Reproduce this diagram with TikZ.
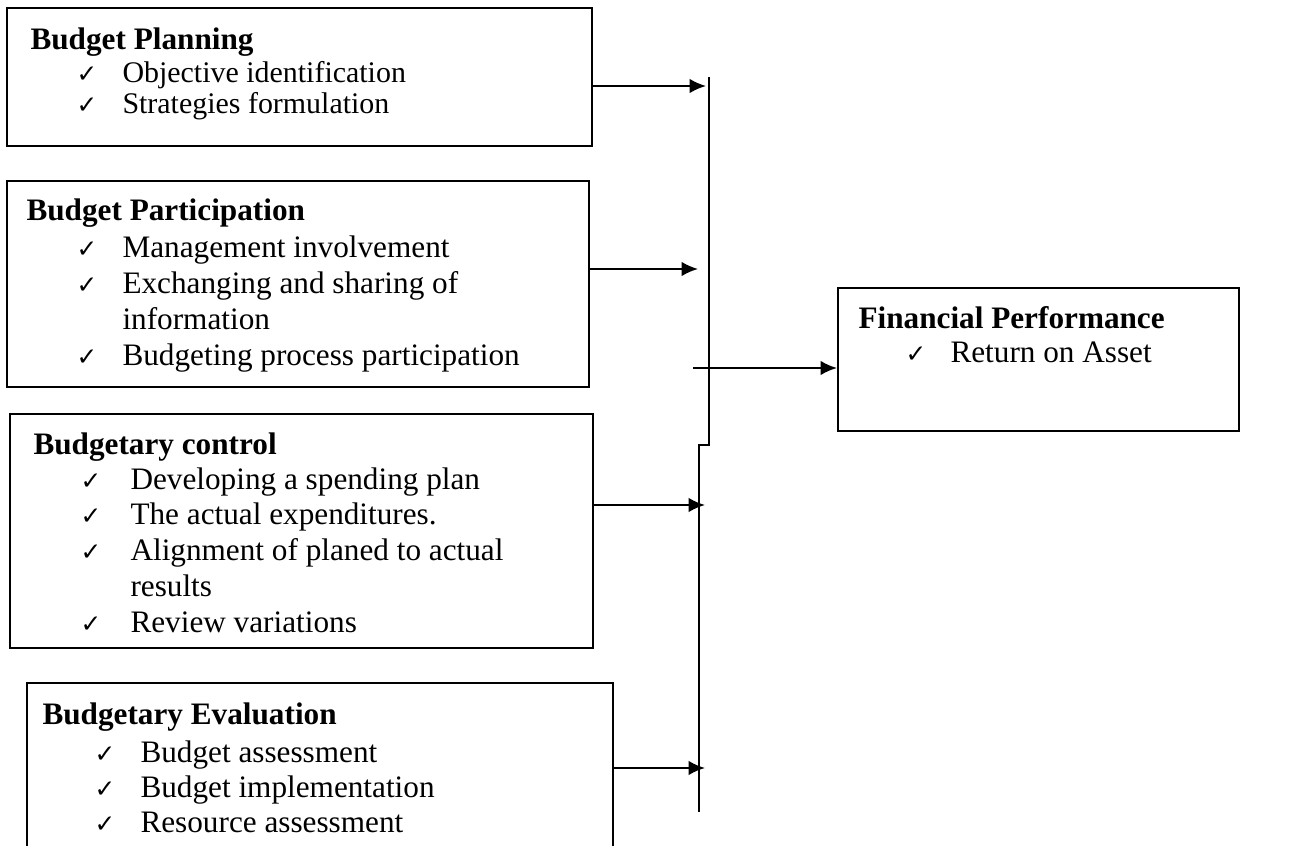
\documentclass[tikz,border=0pt]{standalone}
\usepackage{fontspec}
\setmainfont{Liberation Serif}
\newfontfamily\checkfont{DejaVu Sans}
\usetikzlibrary{arrows.meta,fit}
\tikzset{
  >={Latex[length=6.3pt,width=5.6pt]},
}
\tikzstyle{box}=[draw,line width=0.8pt,inner sep=0pt]
\tikzstyle{flow}=[line width=0.8pt,->]
\tikzstyle{bus}=[line width=0.8pt]
\tikzstyle{every node}=[font=\fontsize{12}{14}\selectfont]
\tikzstyle{head}=[anchor=base west,inner sep=0pt,font=\fontsize{12}{14}\selectfont\bfseries]
\tikzstyle{item}=[anchor=base west,inner sep=0pt]
\tikzstyle{tick}=[anchor=base west,inner sep=0pt,font=\checkfont\fontsize{9.5}{10}\selectfont]

\begin{document}
\begin{tikzpicture}[x=0.0135cm,y=-0.0135cm]
  \path[use as bounding box,clip] (0,0) rectangle (1298,846);

  % the four budget boxes
  \node[box,fit={(7,8) (592,146)}] (plan) {};
  \node[box,fit={(7,181) (589,387)}] (part) {};
  \node[box,fit={(10,414) (593,648)}] (ctrl) {};
  \node[box,fit={(27,683) (613,870)}] (eval) {};
  \node[box,fit={(838,288) (1239,431)}] (perf) {};

  \node[head] (plan t) at (30,50) {Budget Planning};
  \node[tick] (plan k1) at (76,83) {✓};
  \node[item,font=\fontsize{11.5}{13}\selectfont] (plan i1) at (122,83) {Objective identification};
  \node[tick] (plan k2) at (76,114) {✓};
  \node[item,font=\fontsize{11.5}{13}\selectfont] (plan i2) at (122,114) {Strategies formulation};

  \node[head] (part t) at (26,221) {Budget Participation};
  \node[tick] (part k1) at (76,258) {✓};
  \node[item] (part i1) at (122,258) {Management involvement};
  \node[tick] (part k2) at (76,294) {✓};
  \node[item] (part i2) at (122,294) {Exchanging and sharing of};
  \node[item] (part i3) at (122,330) {information};
  \node[tick] (part k3) at (76,366) {✓};
  \node[item] (part i4) at (122,366) {Budgeting process participation};

  \node[head] (ctrl t) at (33,455) {Budgetary control};
  \node[tick] (ctrl k1) at (80,490) {✓};
  \node[item] (ctrl i1) at (130,490) {Developing a spending plan};
  \node[tick] (ctrl k2) at (80,525) {✓};
  \node[item] (ctrl i2) at (130,525) {The actual expenditures.};
  \node[tick] (ctrl k3) at (80,561) {✓};
  \node[item] (ctrl i3) at (130,561) {Alignment of planed to actual};
  \node[item] (ctrl i4) at (130,597) {results};
  \node[tick] (ctrl k4) at (80,633) {✓};
  \node[item] (ctrl i5) at (130,633) {Review variations};

  \node[head] (eval t) at (42,724) {Budgetary Evaluation};
  \node[tick] (eval k1) at (94,762) {✓};
  \node[item] (eval i1) at (140,762) {Budget assessment};
  \node[tick] (eval k2) at (94,797) {✓};
  \node[item] (eval i2) at (140,797) {Budget implementation};
  \node[tick] (eval k3) at (94,832) {✓};
  \node[item] (eval i3) at (140,832) {Resource assessment};

  \node[head] (perf t) at (858,329) {Financial Performance};
  \node[tick] (perf k1) at (905,363) {✓};
  \node[item] (perf i1) at (950,363) {Return on Asset};

  % collecting line
  \coordinate (bus top) at (709,77);
  \coordinate (bus jog) at (709,445);
  \coordinate (bus low) at (699,445);
  \coordinate (bus end) at (699,812);
  \draw[bus] (bus top) -- (bus jog) -- (bus low) -- (bus end);

  \coordinate (in1) at (706,86);
  \coordinate (in2) at (698,269);
  \coordinate (in3) at (705,505);
  \coordinate (in4) at (705,768);
  \coordinate (out) at (693,368);
  \draw[flow] (plan.east |- in1) -- (in1);
  \draw[flow] (part.east |- in2) -- (in2);
  \draw[flow] (ctrl.east |- in3) -- (in3);
  \draw[flow] (eval.east |- in4) -- (in4);
  \draw[flow] (out) -- (perf.west |- out);
\end{tikzpicture}
\end{document}
